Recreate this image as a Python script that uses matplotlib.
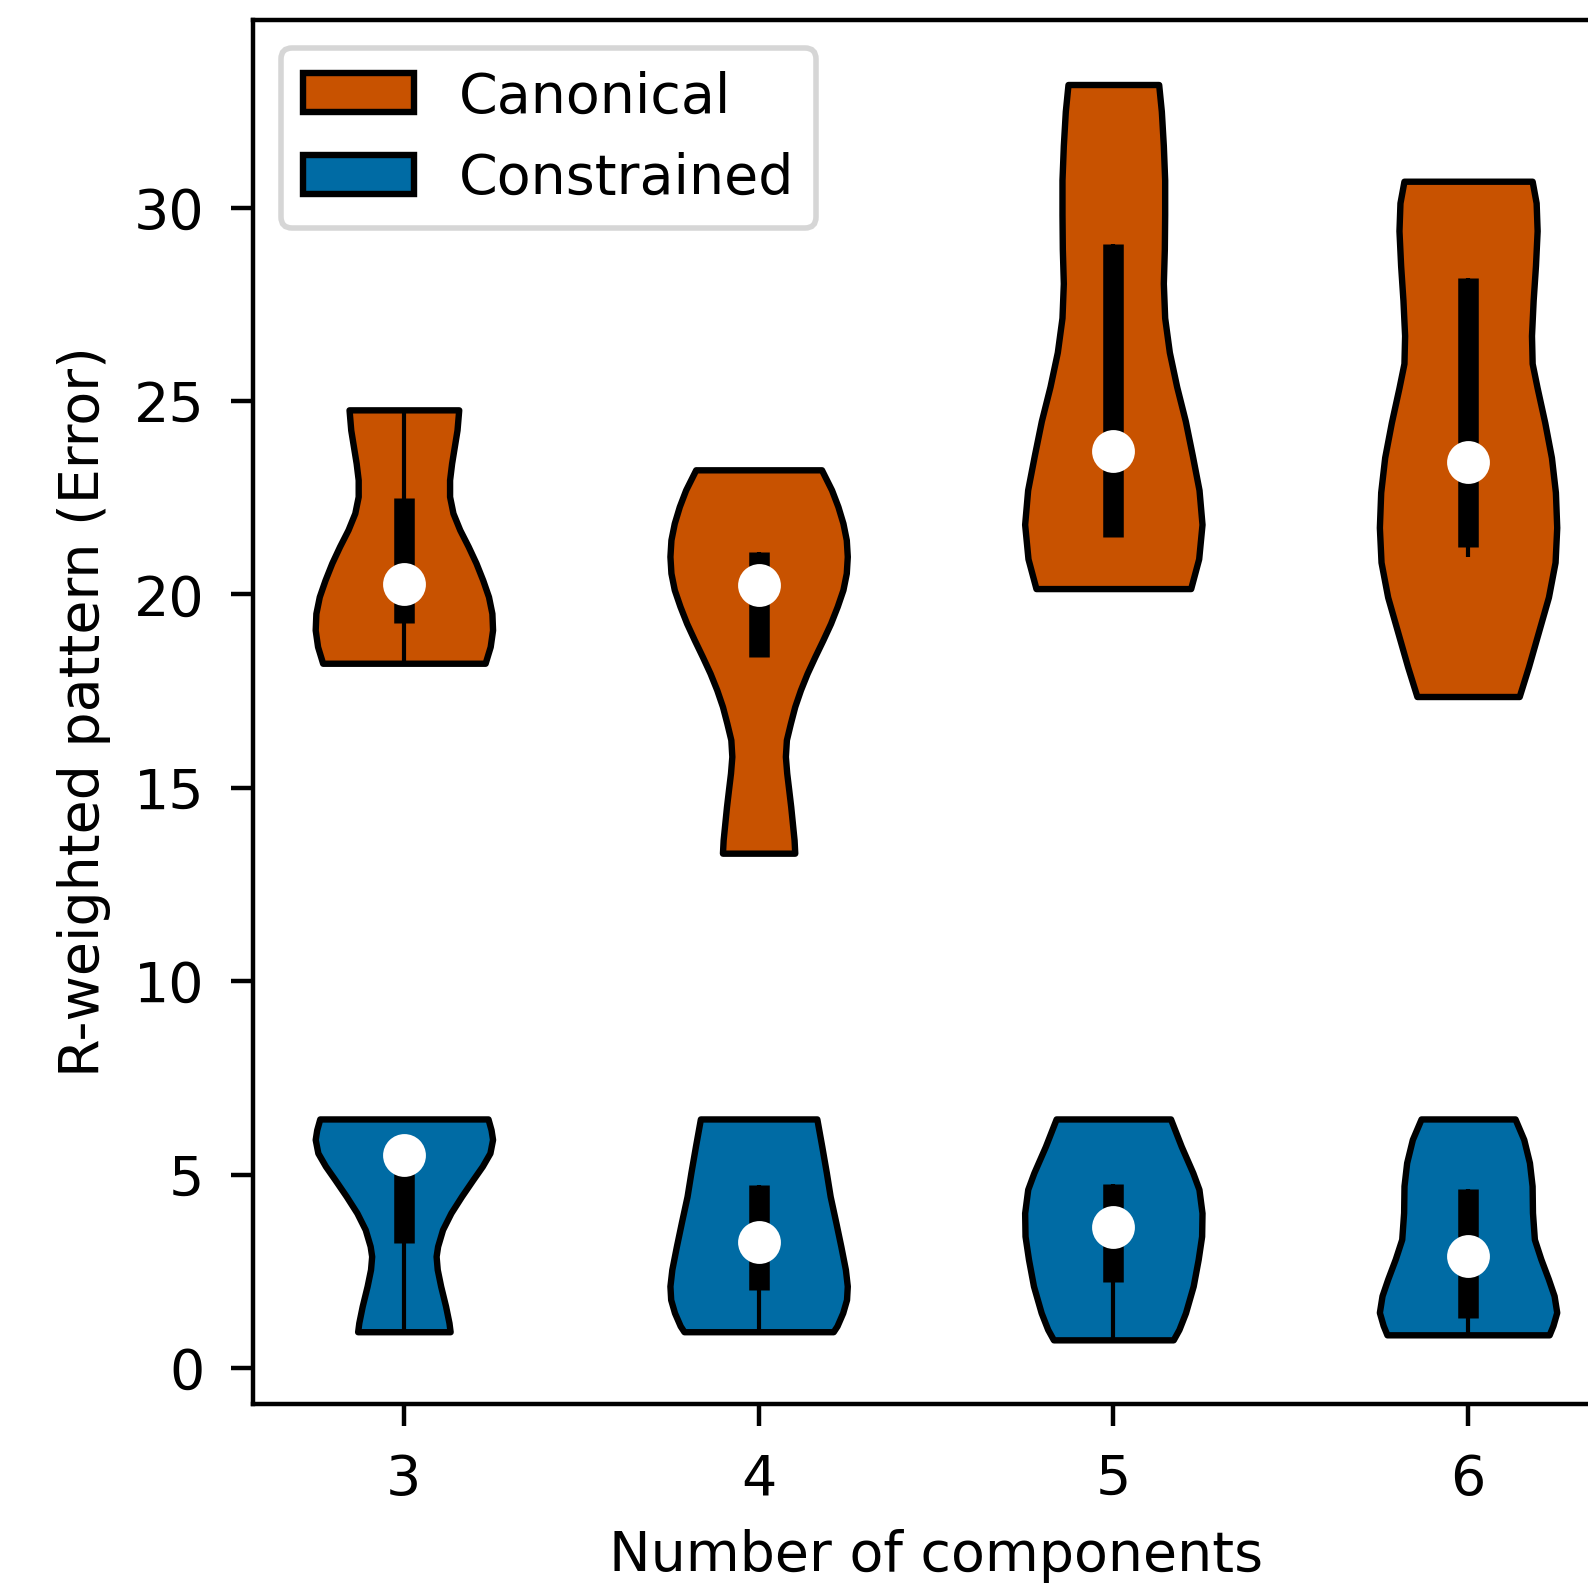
import numpy as np
import matplotlib
matplotlib.use("Agg")
import matplotlib.pyplot as plt
from matplotlib.patches import Patch

plt.style.use("tableau-colorblind10")

# -----------------------------
# data
# -----------------------------

n_components = [3, 4, 5, 6]
series_names = ["Canonical", "Constrained"]
series_colors = ["#C85200", "#006BA4"]

# violin outlines: y levels and relative half widths
canon3_y = [18.22, 18.65, 19.08, 19.51, 19.94, 20.37, 20.81, 21.24, 21.67, 22.10, 22.53, 22.96, 23.39, 23.82, 24.25, 24.77]
canon3_w = [240, 255, 262, 260, 250, 233, 213, 190, 165, 145, 135, 135, 141, 149, 157, 162]
canon4_y = [13.31, 13.65, 14.08, 14.51, 14.95, 15.38, 15.81, 16.24, 16.67, 17.10, 17.53, 17.96, 18.39, 18.82,
            19.25, 19.69, 20.12, 20.55, 20.98, 21.41, 21.84, 22.27, 22.70, 23.22]
canon4_w = [108, 106, 101, 96, 90, 84, 80, 83, 95, 108, 125, 145, 168, 192,
            215, 235, 252, 262, 265, 262, 252, 237, 218, 188]
canon5_y = [20.15, 20.92, 21.81, 22.70, 23.59, 24.48, 25.37, 26.26, 27.15, 28.04, 28.93, 29.82, 30.71, 31.60, 32.49, 33.18]
canon5_w = [232, 256, 266, 257, 237, 216, 190, 168, 154, 150, 153, 154, 154, 150, 144, 136]
canon6_y = [17.36, 18.13, 19.03, 19.93, 20.83, 21.73, 22.64, 23.54, 24.44, 25.34, 25.97, 26.69, 27.60, 28.50, 29.40, 30.12, 30.68]
canon6_w = [154, 182, 212, 242, 262, 267, 263, 251, 231, 208, 193, 191, 196, 203, 208, 205, 193]

constr3_y = [0.94, 1.17, 1.60, 2.12, 2.55, 2.89, 3.15, 3.58, 4.01, 4.44, 4.87, 5.22, 5.56, 5.91, 6.16, 6.44]
constr3_w = [122, 119, 110, 97, 88, 85, 89, 102, 124, 152, 182, 207, 227, 234, 230, 222]
constr4_y = [0.94, 1.09, 1.43, 1.77, 2.12, 2.55, 3.15, 3.76, 4.44, 5.05, 5.73, 6.44]
constr4_w = [196, 206, 221, 231, 233, 228, 216, 203, 188, 178, 166, 153]
constr5_y = [0.73, 1.00, 1.43, 2.12, 2.81, 3.41, 4.01, 4.62, 5.05, 5.73, 6.44]
constr5_w = [156, 171, 188, 208, 221, 230, 231, 223, 207, 177, 149]
constr6_y = [0.86, 1.10, 1.44, 1.87, 2.30, 2.82, 3.33, 4.02, 4.71, 5.31, 5.91, 6.44]
constr6_w = [214, 224, 234, 227, 212, 192, 175, 170, 169, 162, 147, 124]

canon_median = [20.27, 20.23, 23.70, 23.43]
canon_q1 = [19.25, 18.37, 21.49, 21.23]
canon_q3 = [22.50, 21.10, 29.05, 28.19]
canon_whisk_lo = [18.22, 18.37, 21.49, 20.97]
canon_whisk_hi = [24.77, 21.10, 29.05, 28.19]

constr_median = [5.52, 3.26, 3.65, 2.89]
constr_q1 = [3.24, 2.01, 2.23, 1.29]
constr_q3 = [5.95, 4.74, 4.75, 4.62]
constr_whisk_lo = [0.94, 0.94, 0.73, 0.86]
constr_whisk_hi = [5.95, 4.74, 4.75, 4.62]


def make_stats(ys, ws, med):
  ys = np.array(ys)
  return dict(coords=ys, vals=np.array(ws, dtype=float), mean=med,
              median=med, min=ys.min(), max=ys.max())


# -----------------------------
# plotting
# -----------------------------

fig = plt.figure(figsize=(1588 / 400, 1585 / 400), dpi=400)
ax = fig.add_axes([0.1594, 0.1144, 0.860, 0.8728])

groups = [
  ([(canon3_y, canon3_w), (canon4_y, canon4_w), (canon5_y, canon5_w), (canon6_y, canon6_w)],
   canon_median, canon_q1, canon_q3, canon_whisk_lo, canon_whisk_hi),
  ([(constr3_y, constr3_w), (constr4_y, constr4_w), (constr5_y, constr5_w), (constr6_y, constr6_w)],
   constr_median, constr_q1, constr_q3, constr_whisk_lo, constr_whisk_hi),
]

for (profiles, med, q1, q3, wlo, whi), color in zip(groups, series_colors):
  stats = [make_stats(y, w, m) for (y, w), m in zip(profiles, med)]
  parts = ax.violin(stats, positions=n_components, widths=0.5, showextrema=False)
  for body in parts["bodies"]:
    body.set_facecolor(color)
    body.set_edgecolor("black")
    body.set_alpha(1)
    body.set_linewidth(1.15)
    body.set_joinstyle("round")
  ax.vlines(n_components, wlo, whi, color="k", lw=0.75, zorder=2)
  ax.vlines(n_components, q1, q3, color="k", lw=3.7, zorder=2)
  ax.scatter(n_components, med, marker="o", color="white", s=45, zorder=3)

ax.set_xlim(2.575, 6.425)
ax.set_ylim(-0.92, 34.84)
ax.set_xticks(n_components)
ax.tick_params(length=4, pad=4.8)
ax.set_xlabel("Number of components")
ax.set_ylabel("R-weighted pattern (Error)")

handles = [Patch(facecolor=c, edgecolor="black", lw=1.15, label=l)
           for c, l in zip(series_colors, series_names)]
ax.legend(handles=handles, loc="upper left")

fig.savefig("out.png", dpi=400)
